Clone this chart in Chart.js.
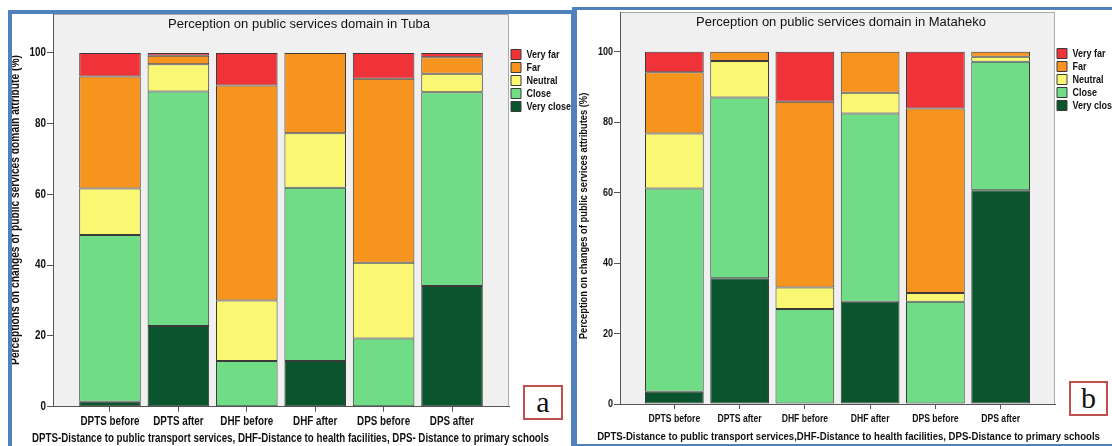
<!DOCTYPE html>
<html>
<head>
<meta charset="utf-8">
<script src="https://cdn.jsdelivr.net/npm/chart.js@4/dist/chart.umd.min.js"></script>
<style>
  body { margin: 0; background: #fff; width: 1112px; height: 446px; overflow: hidden; position: relative; }
  .frame { position: absolute; border: 4px solid #4f81bd; box-sizing: border-box; }
  canvas { position: absolute; }
  .tag { position: absolute; border: 2px solid #c0504d; background: #fff; box-sizing: border-box;
         font-family: 'Liberation Serif', 'DejaVu Serif', serif; font-size: 30px; text-align: center; color: #111; }
</style>
</head>
<body>
<div class="frame" style="left:8px;top:10px;width:567px;height:446px"></div>
<div class="frame" style="left:572px;top:7px;width:560px;height:439px;border-left-width:5px;border-top-width:3px;border-bottom-width:2px"></div>
<canvas id="tuba" width="562" height="432" style="left:12px;top:14px"></canvas>
<canvas id="mataheko" width="535" height="436" style="left:577px;top:10px"></canvas>
<div class="tag" style="left:523px;top:385px;width:40px;height:35px;line-height:30px">a</div>
<div class="tag" style="left:1069px;top:381px;width:39px;height:35px;line-height:30px">b</div>

<script>
// Categories shared by both panels
const categories = ['DPTS before', 'DPTS after', 'DHF before', 'DHF after', 'DPS before', 'DPS after'];
const levels = ['Very close', 'Close', 'Neutral', 'Far', 'Very far'];
const yTickValues = [0, 20, 40, 60, 80, 100];

// Tuba (%)
const tubaVeryClose = [1.4, 22.8, 0, 12.9, 0, 34.1];
const tubaClose     = [47.1, 66.3, 12.9, 49.0, 19.3, 54.8];
const tubaNeutral   = [13.2, 7.7, 17.1, 15.4, 21.4, 5.2];
const tubaFar       = [31.6, 2.4, 60.8, 22.7, 52.0, 4.7];
const tubaVeryFar   = [6.7, 0.8, 9.2, 0, 7.3, 1.2];

// Mataheko (%)
const matVeryClose = [3.5, 35.7, 0, 29.0, 0, 60.7];
const matClose     = [57.7, 51.3, 27.0, 53.5, 29.0, 36.5];
const matNeutral   = [15.6, 10.4, 6.1, 5.9, 2.5, 1.4];
const matFar       = [17.4, 2.6, 52.7, 11.6, 52.4, 1.4];
const matVeryFar   = [5.8, 0, 14.2, 0, 16.1, 0];

const levelColors = ['#0a552d', '#70dc85', '#faf772', '#f7941e', '#ef3338'];
const SANS = "'Liberation Sans', Arial, sans-serif";

// Bold labels are set in a narrow face: squeeze bold text horizontally
const narrowBold = {
  id: 'narrowBold',
  beforeInit(chart) {
    const ctx = chart.ctx;
    const base = ctx.fillText;
    ctx.fillText = function (text, x, y, maxWidth) {
      if (/bold|700/.test(this.font)) {
        const w = this.measureText(text).width * 0.82;
        maxWidth = maxWidth === undefined ? w : Math.min(maxWidth, w);
      }
      return maxWidth === undefined ? base.call(this, text, x, y) : base.call(this, text, x, y, maxWidth);
    };
  }
};

// Grey plot background with a thin frame on top and right
const plotFrame = {
  id: 'plotFrame',
  beforeDraw(chart) {
    const { ctx, chartArea: a } = chart;
    ctx.save();
    ctx.fillStyle = '#f0f0f0';
    ctx.fillRect(a.left, a.top, a.right - a.left, a.bottom - a.top);
    ctx.strokeStyle = '#a8a8a8';
    ctx.lineWidth = 1;
    ctx.beginPath();
    ctx.moveTo(a.left, a.top + 0.5);
    ctx.lineTo(a.right - 0.5, a.top + 0.5);
    ctx.lineTo(a.right - 0.5, a.bottom);
    ctx.stroke();
    ctx.restore();
  }
};

// Heading inside the plot, vertical axis caption and the abbreviation note underneath
const panelText = {
  id: 'panelText',
  afterDraw(chart, args, o) {
    const ctx = chart.ctx;
    ctx.save();
    ctx.fillStyle = '#111';
    ctx.textAlign = 'center';
    ctx.textBaseline = 'middle';
    ctx.font = o.titleFont;
    ctx.fillText(o.title, o.titleX, o.titleY);
    ctx.font = o.footerFont;
    ctx.fillText(o.footer, o.footerX, o.footerY);
    ctx.translate(o.yTitleX, o.yTitleY);
    ctx.rotate(-Math.PI / 2);
    ctx.font = o.yTitleFont;
    ctx.fillText(o.yTitle, 0, 0);
    ctx.restore();
  }
};

function buildPanel(id, series, cfg) {
  const datasets = levels.map((name, k) => ({
    label: name,
    data: series[k].map((v, i) => ({ x: i, y: v })),
    backgroundColor: levelColors[k],
    borderColor: '#3a3a3a',
    borderWidth: 1,
    borderSkipped: false,
    barPercentage: 0.9,
    categoryPercentage: 1
  }));

  return new Chart(document.getElementById(id), {
    type: 'bar',
    data: { datasets },
    plugins: [narrowBold, plotFrame, panelText],
    options: {
      responsive: false,
      animation: false,
      layout: { padding: { top: cfg.padTop, right: 0, bottom: 0, left: 0 } },
      scales: {
        x: {
          type: 'linear',
          stacked: true,
          offset: false,
          min: -0.833,
          max: categories.length - 1 + 0.833,
          afterBuildTicks: s => { s.ticks = categories.map((_, i) => ({ value: i })); },
          afterFit: s => { s.height = cfg.xHeight; s.paddingLeft = 0; s.paddingRight = 0; },
          grid: { drawOnChartArea: false, offset: false, tickLength: 5, color: '#555' },
          border: { color: '#555', width: 1 },
          ticks: {
            autoSkip: false, maxRotation: 0, minRotation: 0,
            padding: cfg.xPad,
            color: '#111',
            font: { family: SANS, weight: 'bold', size: cfg.xFont },
            callback: v => categories[v]
          }
        },
        y: {
          stacked: true,
          min: 0,
          max: cfg.yMax,
          afterBuildTicks: s => { s.ticks = yTickValues.map(v => ({ value: v })); },
          afterFit: s => { s.width = cfg.yWidth; s.paddingTop = 0; s.paddingBottom = 0; },
          grid: { drawOnChartArea: false, tickLength: 6, color: '#555' },
          border: { color: '#555', width: 1 },
          ticks: { padding: 1, color: '#111', font: { family: SANS, weight: 'bold', size: cfg.yFont } }
        }
      },
      plugins: {
        tooltip: { enabled: false },
        legend: {
          position: 'right',
          align: 'start',
          reverse: true,
          maxWidth: cfg.legendWidth,
          title: { display: true, text: ' ', padding: { top: cfg.legendTop, bottom: 0 }, font: { size: 1, lineHeight: 1 } },
          labels: {
            boxWidth: 10, boxHeight: 10, padding: 2,
            color: '#111',
            font: { family: SANS, weight: 'bold', size: 11 }
          }
        },
        panelText: cfg.text
      }
    }
  });
}

buildPanel('tuba', [tubaVeryClose, tubaClose, tubaNeutral, tubaFar, tubaVeryFar], {
  padTop: 0, xHeight: 39.3, xPad: 3, xFont: 12, yFont: 12, yMax: 111, yWidth: 41, legendWidth: 65, legendTop: 32,
  text: {
    title: 'Perception on public services domain in Tuba', titleX: 287, titleY: 10,
    titleFont: "13px " + SANS,
    footer: 'DPTS-Distance to public transport services, DHF-Distance to health facilities, DPS- Distance to primary schools',
    footerX: 278.5, footerY: 425,
    footerFont: "bold 11.9px " + SANS,
    yTitle: 'Perceptions on changes of public services domain attribute (%)',
    yTitleX: 3.8, yTitleY: 196,
    yTitleFont: "bold 12.5px " + SANS
  }
});

buildPanel('mataheko', [matVeryClose, matClose, matNeutral, matFar, matVeryFar], {
  padTop: 2, xHeight: 42, xPad: 4, xFont: 10.5, yFont: 11, yMax: 111.3, yWidth: 43, legendWidth: 57, legendTop: 33,
  text: {
    title: 'Perception on public services domain in Mataheko', titleX: 264, titleY: 12,
    titleFont: "13px " + SANS,
    footer: 'DPTS-Distance to public transport services,DHF-Distance to health facilities, DPS-Distance to primary schools',
    footerX: 271.5, footerY: 427,
    footerFont: "bold 11.7px " + SANS,
    yTitle: 'Perception on changes of public services attributes (%)',
    yTitleX: 6.7, yTitleY: 206,
    yTitleFont: "bold 11.4px " + SANS
  }
});
</script>
</body>
</html>
